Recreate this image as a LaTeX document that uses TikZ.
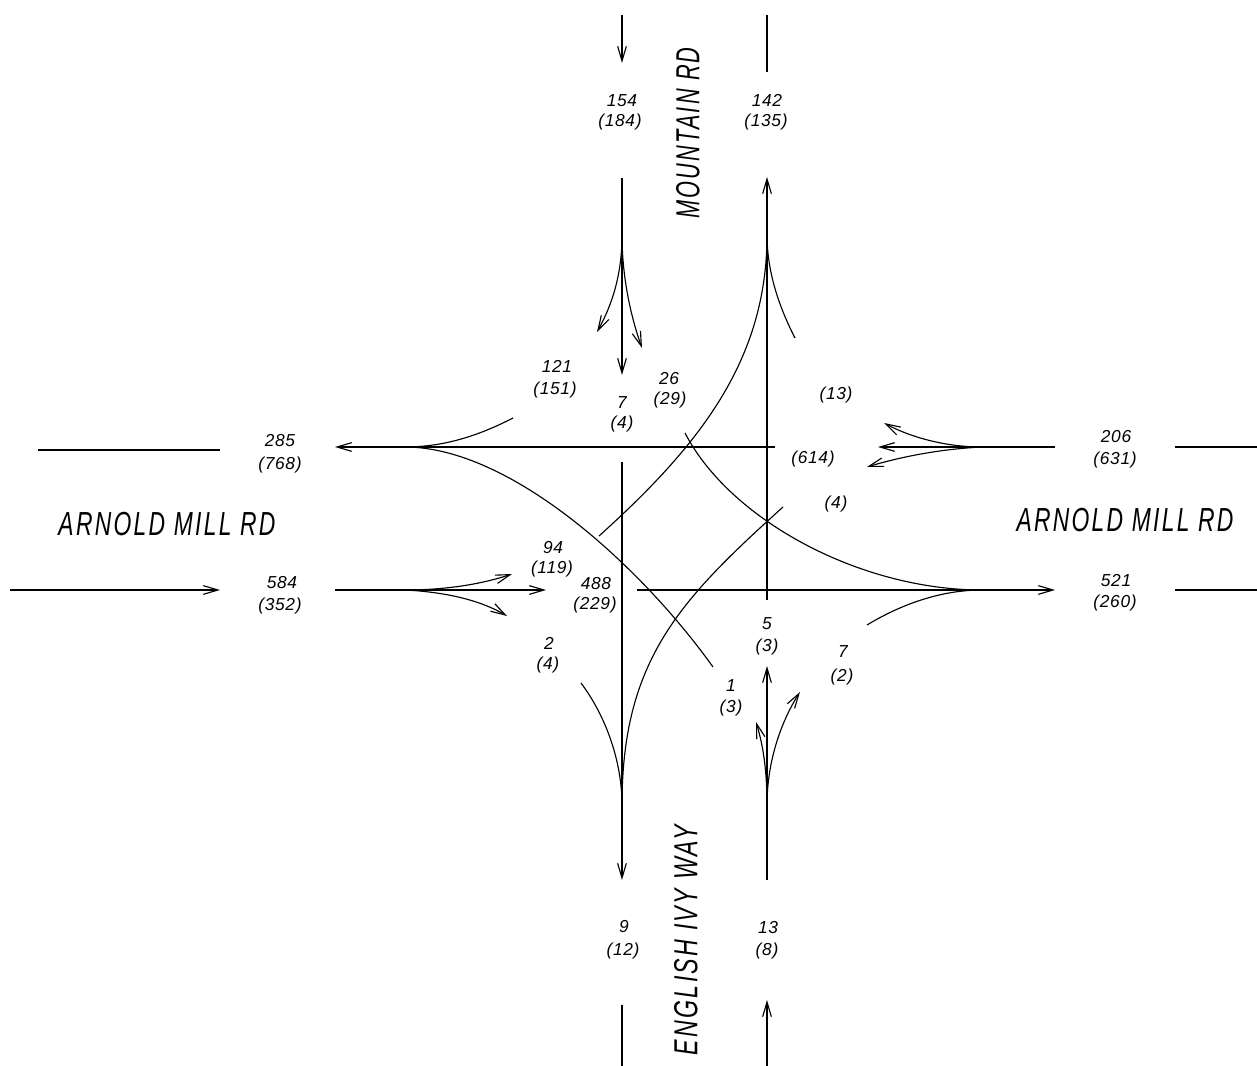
\documentclass[tikz,border=0pt]{standalone}
\usepackage{fontspec}
\setmainfont{Liberation Sans}
\usetikzlibrary{arrows.meta}
\begin{document}
\begin{tikzpicture}[x=0.75pt,y=-0.75pt,
  road/.style={line width=0.85pt},
  arr/.style={road,-{Straight Barb[length=11pt,width=6.5pt,line width=0.85pt]}},
  heavy/.style={line width=1.6pt},
  vol/.style={font=\fontsize{13}{15}\selectfont\itshape\addfontfeature{LetterSpace=4}, inner sep=0pt, text height=9pt, text depth=0pt},
  rname/.style={font=\fontsize{25}{25}\selectfont\itshape\addfontfeature{LetterSpace=10}, inner sep=0pt, text height=17.2pt, text depth=0pt}]
\useasboundingbox (0,0) rectangle (1257,1066);

% ---------- key points ----------
% southbound approach (x=622)
\coordinate (sbTop) at (622,15);
\coordinate (sbTopTip) at (622,63);
\coordinate (sbA) at (622,178);
\coordinate (sbF) at (622,235);
\coordinate (sbThru) at (622,375);
\coordinate (sbL) at (597,332);
\coordinate (sbR) at (642,348);
% northbound departure (x=767)
\coordinate (ndTop) at (767,15);
\coordinate (ndTopEnd) at (767,72);
\coordinate (ndTip) at (767,177);
\coordinate (ndM) at (767,235);
\coordinate (ndBot) at (767,600);
% westbound departure (y=447)
\coordinate (wLeftA) at (38,450);
\coordinate (wLeftB) at (220,450);
\coordinate (wdTip) at (335,447);
\coordinate (wdM) at (405,447);
\coordinate (wdEnd) at (775,447);
% eastbound approach (y=590)
\coordinate (ebA) at (10,590);
\coordinate (ebTip) at (220,590);
\coordinate (ebB) at (335,590);
\coordinate (ebF) at (405,590);
\coordinate (ebThru) at (546,590);
\coordinate (ebUp) at (512,574);
\coordinate (ebDn) at (507,616);
% eastbound departure (y=590)
\coordinate (edStart) at (637,590);
\coordinate (edM) at (982,590);
\coordinate (edTip) at (1055,590);
\coordinate (edR1) at (1175,590);
\coordinate (edR2) at (1257,590);
% westbound approach (y=447)
\coordinate (wbR1) at (1175,447);
\coordinate (wbR2) at (1257,447);
\coordinate (wbA) at (1055,447);
\coordinate (wbF) at (982,447);
\coordinate (wbThru) at (878,447);
\coordinate (wbUp) at (884,423);
\coordinate (wbDn) at (867,467);
% southbound departure (x=622)
\coordinate (sdStart) at (622,462);
\coordinate (sdM) at (622,805);
\coordinate (sdTip) at (622,880);
\coordinate (sdB1) at (622,1005);
\coordinate (sdB2) at (622,1066);
% northbound approach (x=767)
\coordinate (nbB) at (767,1066);
\coordinate (nbTip) at (767,1000);
\coordinate (nbA) at (767,880);
\coordinate (nbF) at (767,805);
\coordinate (nbThru) at (767,666);
\coordinate (nbL) at (756,722);
\coordinate (nbR) at (800,692);
% free ends of turning curves
\coordinate (nlS) at (713,667);
\coordinate (srS) at (513,418);
\coordinate (elS) at (599,536);
\coordinate (wrS) at (795,338);
\coordinate (slS) at (685,433);
\coordinate (nrS) at (867,625);
\coordinate (wlS) at (783,507);
\coordinate (erS) at (581,683);

% ---------- southbound approach ----------
\draw[arr] (sbTop) -- (sbTopTip);
\draw[arr] (sbA) -- (sbThru);
\draw[arr] (sbF) .. controls (622,275) and (612,305) .. (sbL);
\draw[arr] (sbF) .. controls (622,280) and (632,320) .. (sbR);

% ---------- northbound departure ----------
\draw[road] (ndTop) -- (ndTopEnd);
\draw[arr] (ndBot) -- (ndTip);
\draw[road] (elS) .. controls (700,445) and (767,360) .. (ndM);
\draw[road] (wrS) .. controls (778,305) and (767,270) .. (ndM);

% ---------- westbound departure ----------
\draw[heavy] (wLeftA) -- (wLeftB);
\draw[arr] (wdEnd) -- (wdTip);
\draw[road] (nlS) .. controls (640,565) and (510,447) .. (wdM);
\draw[road] (srS) .. controls (480,435) and (445,447) .. (wdM);

% ---------- eastbound approach ----------
\draw[arr] (ebA) -- (ebTip);
\draw[arr] (ebB) -- (ebThru);
\draw[arr] (ebF) .. controls (450,590) and (485,583) .. (ebUp);
\draw[arr] (ebF) .. controls (445,592) and (480,600) .. (ebDn);

% ---------- eastbound departure ----------
\draw[arr] (edStart) -- (edTip);
\draw[road] (edR1) -- (edR2);
\draw[road] (slS) .. controls (730,520) and (860,590) .. (edM);
\draw[road] (nrS) .. controls (900,605) and (940,590) .. (edM);

% ---------- westbound approach ----------
\draw[road] (wbR1) -- (wbR2);
\draw[arr] (wbA) -- (wbThru);
\draw[arr] (wbF) .. controls (945,447) and (910,437) .. (wbUp);
\draw[arr] (wbF) .. controls (940,449) and (900,457) .. (wbDn);

% ---------- southbound departure ----------
\draw[arr] (sdStart) -- (sdTip);
\draw[road] (sdB1) -- (sdB2);
\draw[road] (wlS) .. controls (680,600) and (622,660) .. (sdM);
\draw[road] (erS) .. controls (605,715) and (622,760) .. (sdM);

% ---------- northbound approach ----------
\draw[arr] (nbB) -- (nbTip);
\draw[arr] (nbA) -- (nbThru);
\draw[arr] (nbF) .. controls (767,770) and (763,745) .. (nbL);
\draw[arr] (nbF) .. controls (767,760) and (782,720) .. (nbR);

% ---------- road names ----------
\node[rname, rotate=90] (mtn) at (688,133) {\scalebox{0.652}[1]{MOUNTAIN RD}};
\node[rname, rotate=90] (ivy) at (686,940) {\scalebox{0.697}[1]{ENGLISH IVY WAY}};
\node[rname] (amL) at (167,524) {\scalebox{0.686}[1]{ARNOLD MILL RD}};
\node[rname] (amR) at (1125,520) {\scalebox{0.686}[1]{ARNOLD MILL RD}};

% ---------- volumes ----------
\node[vol] (a1) at (622,101) {154};
\node[vol] (a2) at (620,121) {(184)};
\node[vol] (b1) at (767,101) {142};
\node[vol] (b2) at (766,121) {(135)};
\node[vol] (c1) at (557,367) {121};
\node[vol] (c2) at (555,388) {(151)};
\node[vol] (d1) at (622,402) {7};
\node[vol] (d2) at (622,422) {(4)};
\node[vol] (e1) at (669,378) {26};
\node[vol] (e2) at (670,398) {(29)};
\node[vol] (f2) at (836,393) {(13)};
\node[vol] (g2) at (813,457) {(614)};
\node[vol] (h2) at (836,502) {(4)};
\node[vol] (i1) at (280,440) {285};
\node[vol] (i2) at (280,463) {(768)};
\node[vol] (j1) at (1116,436) {206};
\node[vol] (j2) at (1115,458) {(631)};
\node[vol] (k1) at (282,582) {584};
\node[vol] (k2) at (280,604) {(352)};
\node[vol] (l1) at (1116,580) {521};
\node[vol] (l2) at (1115,601) {(260)};
\node[vol] (m1) at (553,547) {94};
\node[vol] (m2) at (552,567) {(119)};
\node[vol] (n1) at (596,583) {488};
\node[vol] (n2) at (595,603) {(229)};
\node[vol] (o1) at (549,643) {2};
\node[vol] (o2) at (548,663) {(4)};
\node[vol] (p1) at (767,623) {5};
\node[vol] (p2) at (767,645) {(3)};
\node[vol] (q1) at (843,651) {7};
\node[vol] (q2) at (842,675) {(2)};
\node[vol] (r1) at (731,685) {1};
\node[vol] (r2) at (731,706) {(3)};
\node[vol] (s1) at (624,926) {9};
\node[vol] (s2) at (623,949) {(12)};
\node[vol] (t1) at (768,927) {13};
\node[vol] (t2) at (767,949) {(8)};
\end{tikzpicture}
\end{document}
